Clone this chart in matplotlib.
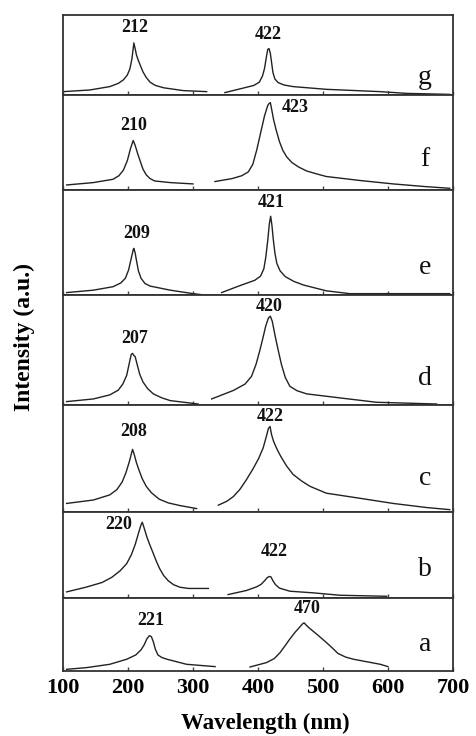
import matplotlib
matplotlib.use("Agg")
import matplotlib.pyplot as plt

plt.rcParams['font.family'] = ['Liberation Serif', 'DejaVu Serif']

# ---- data (wavelength nm, relative intensity 0..1 of panel) ----
g_x1 = [100.5, 141.5, 172, 185, 193, 199, 203, 206, 208, 209, 211, 213, 216, 219, 223, 228, 234, 242, 255, 285, 321]
g_y1 = [0.042, 0.063, 0.105, 0.145, 0.19, 0.25, 0.33, 0.45, 0.58, 0.651, 0.58, 0.50, 0.43, 0.37, 0.29, 0.22, 0.16, 0.12, 0.09, 0.055, 0.042]
g_x2 = [349, 372, 393, 402, 407, 410, 413, 415, 417, 419, 421, 423, 426, 431, 440, 454, 505, 588, 629, 695]
g_y2 = [0.03, 0.076, 0.118, 0.16, 0.24, 0.33, 0.48, 0.57, 0.58, 0.52, 0.40, 0.28, 0.2, 0.155, 0.125, 0.105, 0.071, 0.042, 0.02, 0.008]

f_x1 = [105.6, 146.7, 177, 186, 193, 199, 204, 208, 211, 215, 219, 223, 228, 234, 241, 265, 300]
f_y1 = [0.053, 0.078, 0.113, 0.15, 0.21, 0.31, 0.44, 0.521, 0.47, 0.38, 0.30, 0.22, 0.16, 0.12, 0.095, 0.078, 0.064]
f_x2 = [333.8, 360, 375, 385, 392, 398, 404, 410, 415, 417, 419, 421, 424, 428, 433, 438, 444, 452, 463, 475, 490, 505, 557, 608, 659, 695]
f_y2 = [0.089, 0.12, 0.15, 0.19, 0.27, 0.42, 0.6, 0.78, 0.89, 0.91, 0.92, 0.85, 0.74, 0.63, 0.51, 0.42, 0.35, 0.29, 0.24, 0.2, 0.17, 0.142, 0.10, 0.064, 0.035, 0.018]

e_x1 = [105.6, 146.7, 177, 189, 196, 201, 205, 208, 209, 211, 213, 216, 220, 226, 234, 265, 300, 318]
e_y1 = [0.023, 0.046, 0.079, 0.115, 0.16, 0.24, 0.35, 0.43, 0.444, 0.40, 0.33, 0.23, 0.16, 0.11, 0.085, 0.046, 0.013, 0.0]
e_x2 = [344, 372, 395, 404, 409, 412, 415, 417.5, 419.5, 421.5, 423.5, 426, 429, 434, 442, 455, 470, 505, 541, 695]
e_y2 = [0.023, 0.089, 0.14, 0.18, 0.25, 0.36, 0.52, 0.68, 0.75, 0.66, 0.53, 0.40, 0.3, 0.23, 0.175, 0.13, 0.095, 0.04, 0.013, 0.013]

d_x1 = [105.6, 146.7, 172, 185, 192, 198, 202, 205, 207, 209, 211, 214, 218, 223, 230, 239, 252, 265, 308]
d_y1 = [0.031, 0.055, 0.092, 0.135, 0.19, 0.27, 0.38, 0.46, 0.469, 0.45, 0.44, 0.37, 0.28, 0.21, 0.15, 0.101, 0.065, 0.04, 0.009]
d_x2 = [328.7, 362, 380, 390, 397, 403, 408, 412, 416, 419, 422, 426, 431, 436, 442, 449, 460, 475, 531, 582, 675]
d_y2 = [0.055, 0.132, 0.19, 0.26, 0.37, 0.5, 0.62, 0.72, 0.79, 0.807, 0.76, 0.638, 0.5, 0.37, 0.25, 0.17, 0.13, 0.101, 0.061, 0.025, 0.009]

c_x1 = [105.6, 146.7, 172, 183, 191, 197, 202, 205, 207, 209.5, 213, 217, 222, 228, 236, 248, 262, 280, 305.6]
c_y1 = [0.08, 0.112, 0.16, 0.21, 0.28, 0.37, 0.47, 0.54, 0.585, 0.54, 0.46, 0.39, 0.31, 0.24, 0.18, 0.12, 0.085, 0.06, 0.032]
c_x2 = [339, 352, 362, 372, 382, 392, 401, 408, 413, 416, 418.5, 421, 424, 429, 435, 444, 454, 467, 480, 505, 557, 608, 659, 695]
c_y2 = [0.064, 0.1, 0.144, 0.21, 0.3, 0.40, 0.5, 0.6, 0.71, 0.78, 0.799, 0.72, 0.66, 0.59, 0.52, 0.43, 0.351, 0.29, 0.24, 0.176, 0.128, 0.08, 0.042, 0.022]

b_x1 = [105.6, 136, 160, 175, 188, 198, 205, 211, 216, 220, 222, 225, 229, 234, 239, 244, 249, 255, 262, 270, 280, 293, 323.6]
b_y1 = [0.071, 0.127, 0.18, 0.24, 0.317, 0.40, 0.5, 0.62, 0.75, 0.85, 0.881, 0.81, 0.71, 0.61, 0.516, 0.42, 0.337, 0.26, 0.2, 0.155, 0.125, 0.111, 0.111]
b_x2 = [354, 382, 398, 405, 410, 414, 417, 420, 423, 427, 433, 449, 485, 526, 598]
b_y2 = [0.04, 0.087, 0.13, 0.16, 0.2, 0.235, 0.25, 0.245, 0.2, 0.155, 0.115, 0.079, 0.06, 0.032, 0.02]

a_x1 = [105.6, 136, 172, 198, 212, 220, 225, 229, 233, 236, 239, 242, 246, 252, 260, 290, 334]
a_y1 = [0.023, 0.046, 0.092, 0.161, 0.22, 0.29, 0.36, 0.44, 0.484, 0.47, 0.40, 0.30, 0.22, 0.185, 0.161, 0.092, 0.06]
a_x2 = [387.7, 413, 425, 434, 442, 449, 457, 464, 469, 471, 474, 478, 490, 505, 515, 523, 535, 547, 588, 600]
a_y2 = [0.055, 0.115, 0.17, 0.253, 0.35, 0.438, 0.53, 0.6, 0.65, 0.659, 0.63, 0.595, 0.507, 0.392, 0.31, 0.24, 0.19, 0.161, 0.092, 0.06]

panel_names = ['g', 'f', 'e', 'd', 'c', 'b', 'a']
peak_labels = [['212', '422'], ['210', '423'], ['209', '421'], ['207', '420'],
               ['208', '422'], ['220', '422'], ['221', '470']]
label_x = [[210.8, 416], [209, 457], [213, 421], [211, 417], [209, 418.5], [185, 424.6], [235, 475]]
label_y = [[0.84, 0.756], [0.674, 0.869], [0.586, 0.884], [0.607, 0.899], [0.75, 0.895], [0.853, 0.536], [0.69, 0.853]]
letter_y = [0.225, 0.32, 0.26, 0.245, 0.31, 0.33, 0.36]
x_ticks = [100, 200, 300, 400, 500, 600, 700]

segments = {
    'g': [(g_x1, g_y1), (g_x2, g_y2)],
    'f': [(f_x1, f_y1), (f_x2, f_y2)],
    'e': [(e_x1, e_y1), (e_x2, e_y2)],
    'd': [(d_x1, d_y1), (d_x2, d_y2)],
    'c': [(c_x1, c_y1), (c_x2, c_y2)],
    'b': [(b_x1, b_y1), (b_x2, b_y2)],
    'a': [(a_x1, a_y1), (a_x2, a_y2)],
}

# ---- layout ----
W, H = 477, 736
fig = plt.figure(figsize=(W / 100, H / 100), dpi=100)
heights = [80, 95, 105, 110, 107, 86, 73]
gs = fig.add_gridspec(len(heights), 1, height_ratios=heights, hspace=0,
                      left=63 / W, right=453 / W, top=1 - 15 / H, bottom=1 - 671 / H)

line_col = '#222222'
for i, name in enumerate(panel_names):
    ax = fig.add_subplot(gs[i])
    for xs, ys in segments[name]:
        ax.plot(xs, ys, color=line_col, lw=1.0)
    ax.set_xlim(100, 700)
    ax.set_ylim(0, 1)
    ax.set_yticks([])
    ax.set_xticks(x_ticks)
    ax.tick_params(axis='x', direction='in', length=3, width=1, color='#444444')
    for s in ax.spines.values():
        s.set_linewidth(1.3)
        s.set_color('#333333')
    for lab, lx, ly in zip(peak_labels[i], label_x[i], label_y[i]):
        ax.text(lx, ly, lab, ha='center', va='center', fontsize=13,
                fontweight='bold', color='#111111')
    ax.text(657, letter_y[i], name, ha='center', va='center', fontsize=20, color='#111111')
    if i < len(panel_names) - 1:
        ax.set_xticklabels([])
    else:
        ax.set_xticklabels([str(t) for t in x_ticks], fontsize=16, fontweight='bold')
        ax.tick_params(axis='x', pad=5)

fig.text(265 / W, 1 - 723 / H, 'Wavelength (nm)', ha='center', va='center',
         fontsize=16.5, fontweight='bold')
fig.text(24 / W, 1 - 337 / H, 'Intensity (a.u.)', ha='center', va='center',
         rotation=90, fontsize=17, fontweight='bold')

fig.savefig('out.png', dpi=100)
